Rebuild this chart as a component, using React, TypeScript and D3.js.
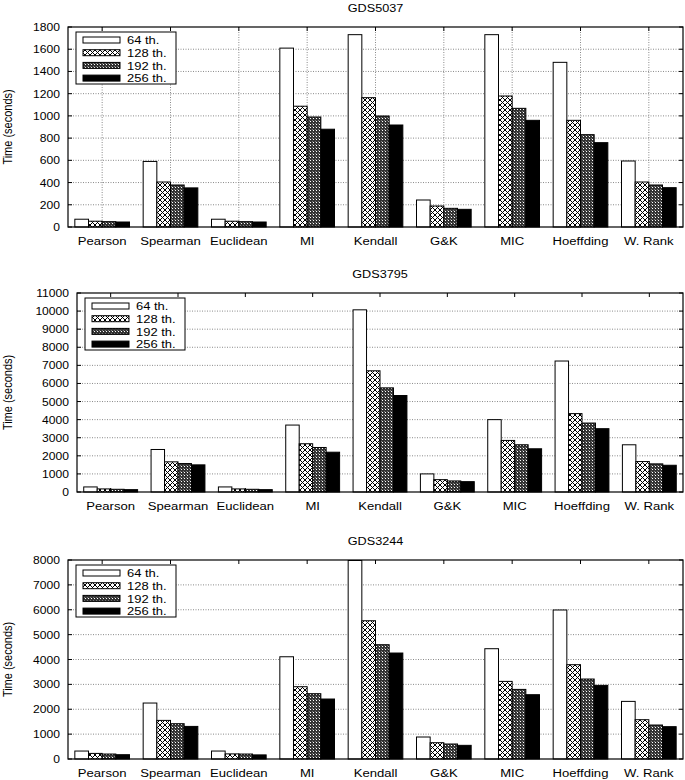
import React from "react";
import * as d3 from "d3";

const categories = ["Pearson", "Spearman", "Euclidean", "MI", "Kendall", "G&K", "MIC", "Hoeffding", "W. Rank"];
const threads = ["64 th.", "128 th.", "192 th.", "256 th."];

// GDS5037
const gds5037_64 = [70, 590, 70, 1610, 1731, 243, 1731, 1482, 594];
const gds5037_128 = [52, 405, 52, 1087, 1164, 189, 1179, 960, 405];
const gds5037_192 = [48, 378, 48, 990, 999, 168, 1068, 831, 378];
const gds5037_256 = [45, 352, 45, 880, 918, 159, 960, 759, 354];

// GDS3795
const gds3795_64 = [280, 2350, 280, 3700, 10070, 1000, 4000, 7240, 2610];
const gds3795_128 = [170, 1667, 170, 2667, 6700, 683, 2850, 4333, 1683];
const gds3795_192 = [150, 1572, 150, 2461, 5756, 611, 2611, 3811, 1555];
const gds3795_256 = [130, 1500, 130, 2200, 5333, 572, 2389, 3500, 1478];

// GDS3244
const gds3244_64 = [320, 2250, 320, 4110, 7980, 884, 4434, 5990, 2316];
const gds3244_128 = [225, 1552, 205, 2906, 5558, 655, 3120, 3791, 1580];
const gds3244_192 = [200, 1419, 200, 2625, 4594, 603, 2798, 3215, 1366];
const gds3244_256 = [173, 1310, 165, 2411, 4260, 549, 2585, 2960, 1300];

const titles = ["GDS5037", "GDS3795", "GDS3244"];
const yMaxes = [1800, 11000, 8000];
const yStepValues = [200, 1000, 1000];

const FONT = "'Liberation Sans', Arial, Helvetica, sans-serif";
const fills = ["#ffffff", "url(#pat128)", "url(#pat192)", "#000000"];

type TProps = { x: number; y: number; size: number; sx: number; anchor?: string; children: React.ReactNode };
function T({ x, y, size, sx, anchor = "start", children }: TProps) {
  return (
    <text transform={`translate(${x},${y}) scale(${sx},1)`} textAnchor={anchor} fontSize={size} fontFamily={FONT} fill="#000">
      {children}
    </text>
  );
}

type PanelProps = {
  title: string;
  series: number[][];
  yMax: number;
  step: number;
  left: number;
  top: number;
  bottom: number;
  right: number;
  vgrid: boolean;
};

function Panel({ title, series, yMax, step, left, top, bottom, right, vgrid }: PanelProps) {
  const y = d3.scaleLinear().domain([0, yMax]).range([bottom, top]);
  const x = d3.scaleBand<string>().domain(categories).range([left, right]).paddingInner(0).paddingOuter(0);
  const bw = x.bandwidth();
  const inner = d3.scaleBand<string>().domain(threads).range([bw * 0.1, bw * 0.9]);
  const ticks = d3.range(0, yMax + step / 2, step);
  const tickLen = 4;
  const lgX = left + 8;
  const lgY = top + 5;
  return (
    <g>
      <T x={(left + right) / 2} y={top - 15} size={11.5} sx={1.1} anchor="middle">{title}</T>
      {ticks.filter((t) => t > 0 && t < yMax).map((t) => (
        <line key={"hg" + t} x1={left} x2={right} y1={y(t)} y2={y(t)} stroke="#8a8a8a" strokeWidth={1} strokeDasharray="1,1.5" />
      ))}
      {vgrid && categories.map((c) => (
        <line key={"vg" + c} x1={x(c)! + bw / 2} x2={x(c)! + bw / 2} y1={top} y2={bottom} stroke="#8a8a8a" strokeWidth={1} strokeDasharray="1,1.5" />
      ))}
      {ticks.map((t) => (
        <g key={"yt" + t}>
          <line x1={left} x2={left + tickLen} y1={y(t)} y2={y(t)} stroke="#000" />
          <line x1={right - tickLen} x2={right} y1={y(t)} y2={y(t)} stroke="#000" />
          <T x={left - 8} y={y(t) + 4} size={11} sx={1.1} anchor="end">{t}</T>
        </g>
      ))}
      {categories.map((c) => (
        <g key={"xt" + c}>
          <line x1={x(c)! + bw / 2} x2={x(c)! + bw / 2} y1={top} y2={top + tickLen} stroke="#000" />
          <line x1={x(c)! + bw / 2} x2={x(c)! + bw / 2} y1={bottom} y2={bottom - tickLen} stroke="#000" />
          <T x={x(c)! + bw / 2} y={bottom + 18} size={11.5} sx={1.14} anchor="middle">{c}</T>
        </g>
      ))}
      {series.map((vals, si) =>
        vals.map((v, ci) => (
          <rect
            key={"b" + si + "-" + ci}
            x={x(categories[ci])! + inner(threads[si])!}
            y={y(v)}
            width={inner.bandwidth()}
            height={bottom - y(v)}
            fill={fills[si]}
            stroke="#000"
            strokeWidth={1}
          />
        ))
      )}
      <rect x={left} y={top} width={right - left} height={bottom - top} fill="none" stroke="#000" strokeWidth={1.2} />
      <text transform={`translate(12,${(top + bottom) / 2}) rotate(-90) scale(1,1.12)`} textAnchor="middle" fontSize={11} fontFamily={FONT}>Time (seconds)</text>
      <rect x={lgX} y={lgY} width={100} height={52} fill="#fff" stroke="#000" strokeWidth={1} />
      {threads.map((t, i) => (
        <g key={"lg" + t}>
          <rect x={lgX + 7} y={lgY + 5 + i * 12.7} width={37} height={6} fill={fills[i]} stroke="#000" strokeWidth={1} />
          <T x={lgX + 51} y={lgY + 12.3 + i * 12.7} size={11} sx={1.18}>{t}</T>
        </g>
      ))}
    </g>
  );
}

export default function App() {
  const data = [
    [gds5037_64, gds5037_128, gds5037_192, gds5037_256],
    [gds3795_64, gds3795_128, gds3795_192, gds3795_256],
    [gds3244_64, gds3244_128, gds3244_192, gds3244_256],
  ];
  const layouts = [
    { left: 68, top: 27, bottom: 227, right: 683, vgrid: true },
    { left: 77, top: 293, bottom: 492, right: 683, vgrid: false },
    { left: 68, top: 560, bottom: 759, right: 683, vgrid: false },
  ];
  return (
    <svg width={685} height={780} style={{ position: "absolute", left: 0, top: 0, background: "#fff" }}>
      <defs>
        <pattern id="pat128" patternUnits="userSpaceOnUse" width={5} height={5}>
          <rect width={5} height={5} fill="#fff" />
          <path d="M0,0 L5,5 M5,0 L0,5" stroke="#000" strokeWidth={1} />
        </pattern>
        <pattern id="pat192" patternUnits="userSpaceOnUse" width={3} height={3}>
          <rect width={3} height={3} fill="#333" />
          <rect x={1} y={1} width={1} height={1} fill="#fff" />
          <rect x={0} y={0} width={0.7} height={0.7} fill="#ccc" />
        </pattern>
      </defs>
      <rect width={685} height={780} fill="#fff" />
      {data.map((series, i) => (
        <Panel key={titles[i]} title={titles[i]} series={series} yMax={yMaxes[i]} step={yStepValues[i]} {...layouts[i]} />
      ))}
    </svg>
  );
}
